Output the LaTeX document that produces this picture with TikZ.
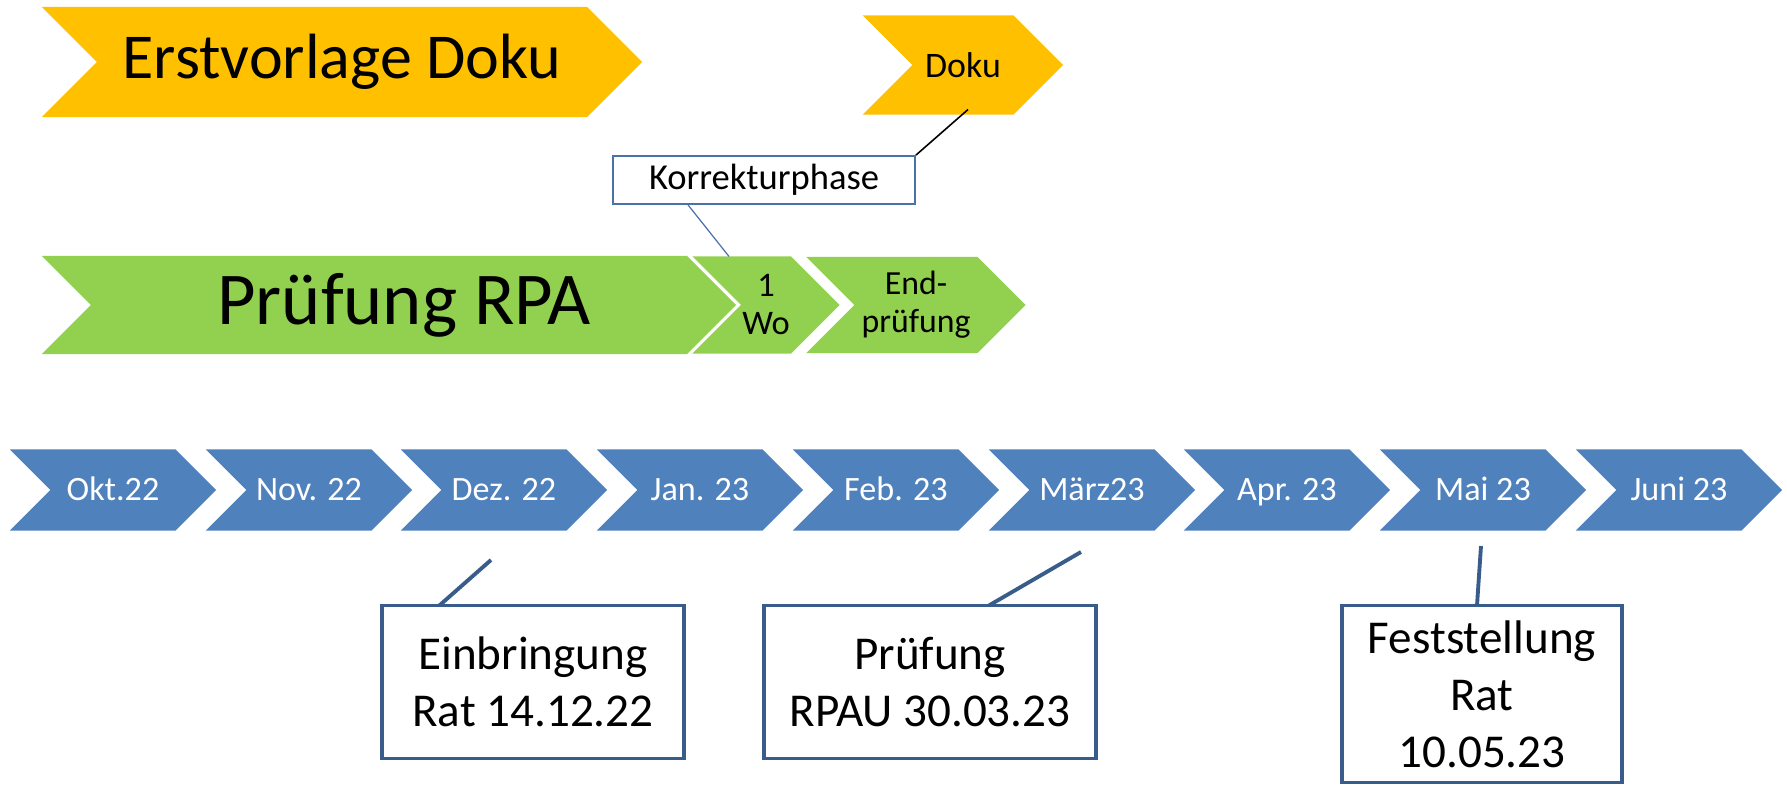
\documentclass[tikz,border=0pt]{standalone}
\usepackage{fontspec}
\setmainfont{Carlito}
\usetikzlibrary{shapes.symbols,calc}
\definecolor{planyellow}{HTML}{FFC000}
\definecolor{plangreen}{HTML}{92D050}
\definecolor{monthblue}{HTML}{4F81BD}
\definecolor{pinblue}{HTML}{385D8A}
\definecolor{korrblue}{HTML}{4A72A8}

\begin{document}
\begin{tikzpicture}[x=0.01cm, y=-0.01cm,
    phase/.style={signal, signal from=west, signal to=east, signal pointer angle=90, inner sep=0pt, outer sep=0pt},
    month/.style={phase, fill=monthblue, text=white, minimum width=2.06cm, minimum height=0.81cm, text height=0.22cm, text depth=0cm, font=\fontsize{9.7}{11}\selectfont},
    event/.style={draw=pinblue, line width=1.1pt, fill=white, align=center, inner sep=0pt, outer sep=0pt, font=\fontsize{13.4}{16.2}\selectfont},
    pin/.style={pinblue, line width=1.1pt}
]
\useasboundingbox (0,0) rectangle (1787,786);

% DOKU (yellow)
\node[phase, fill=planyellow, minimum width=6cm, minimum height=1.1cm, font=\fontsize{18.2}{21}\selectfont] (erst) at (342,62) {Erstvorlage Doku};
\node[phase, fill=planyellow, minimum width=2cm, minimum height=0.99cm, font=\fontsize{10.2}{12}\selectfont] (doku) at (963,65) {Doku};

\node[draw=korrblue, line width=0.5pt, inner sep=0pt, minimum width=3.02cm, minimum height=0.48cm, font=\fontsize{10.4}{12}\selectfont] (korr) at (764,180) {Korrekturphase};

% PRUEFUNG (green)
\node[phase, fill=plangreen, minimum width=6.94cm, minimum height=0.98cm, font=\fontsize{21.2}{24}\selectfont] (rpa) at (389,305) {\hspace{0.3cm}Prüfung RPA};
\node[phase, fill=plangreen, minimum width=1.47cm, minimum height=0.97cm, align=center, font=\fontsize{9.8}{10.8}\selectfont] (wo) at (766,305) {1\\Wo};
\node[phase, fill=plangreen, minimum width=2.19cm, minimum height=0.96cm, align=center, font=\fontsize{9.6}{10.8}\selectfont] (endp) at (916,305) {End-\\prüfung};

\draw[black, line width=0.45pt] ($(doku.south)+(5,-5)$) -- (korr.north east);
\draw[korrblue, line width=0.35pt] ($(korr.south)+(-76,0)$) -- ($(wo.north)+(-37,0)$);

% MONTHS
\node[month] (okt) at (113,490) {Okt.22};
\node[month] (nov) at (309,490) {Nov. 22};
\node[month] (dez) at (504,490) {Dez. 22};
\node[month] (jan) at (700,490) {Jan. 23};
\node[month] (feb) at (896,490) {Feb. 23};
\node[month] (mrz) at (1092,490) {März23};
\node[month] (apr) at (1287,490) {Apr. 23};
\node[month] (mai) at (1483,490) {Mai 23};
\node[month] (jun) at (1679,490) {Juni 23};

% Dates
\node[event, minimum width=3.01cm, minimum height=1.53cm] (ein) at (533,682) {Einbringung\\Rat 14.12.22};
\node[event, minimum width=3.32cm, minimum height=1.53cm] (rpau) at (930,682) {Prüfung\\RPAU 30.03.23};
\node[event, minimum width=2.80cm, minimum height=1.77cm] (fest) at (1482,694) {Feststellung\\Rat\\10.05.23};

\coordinate (dezpin) at (491,560);
\coordinate (mrzpin) at (1081,552);
\coordinate (maipin) at (1481,546);
\draw[pin] (dezpin) -- ($(ein.north west)+(57,0)$);
\draw[pin] (mrzpin) -- ($(rpau.north)+(59,0)$);
\draw[pin] (maipin) -- ($(fest.north)+(-5,0)$);

\end{tikzpicture}
\end{document}
